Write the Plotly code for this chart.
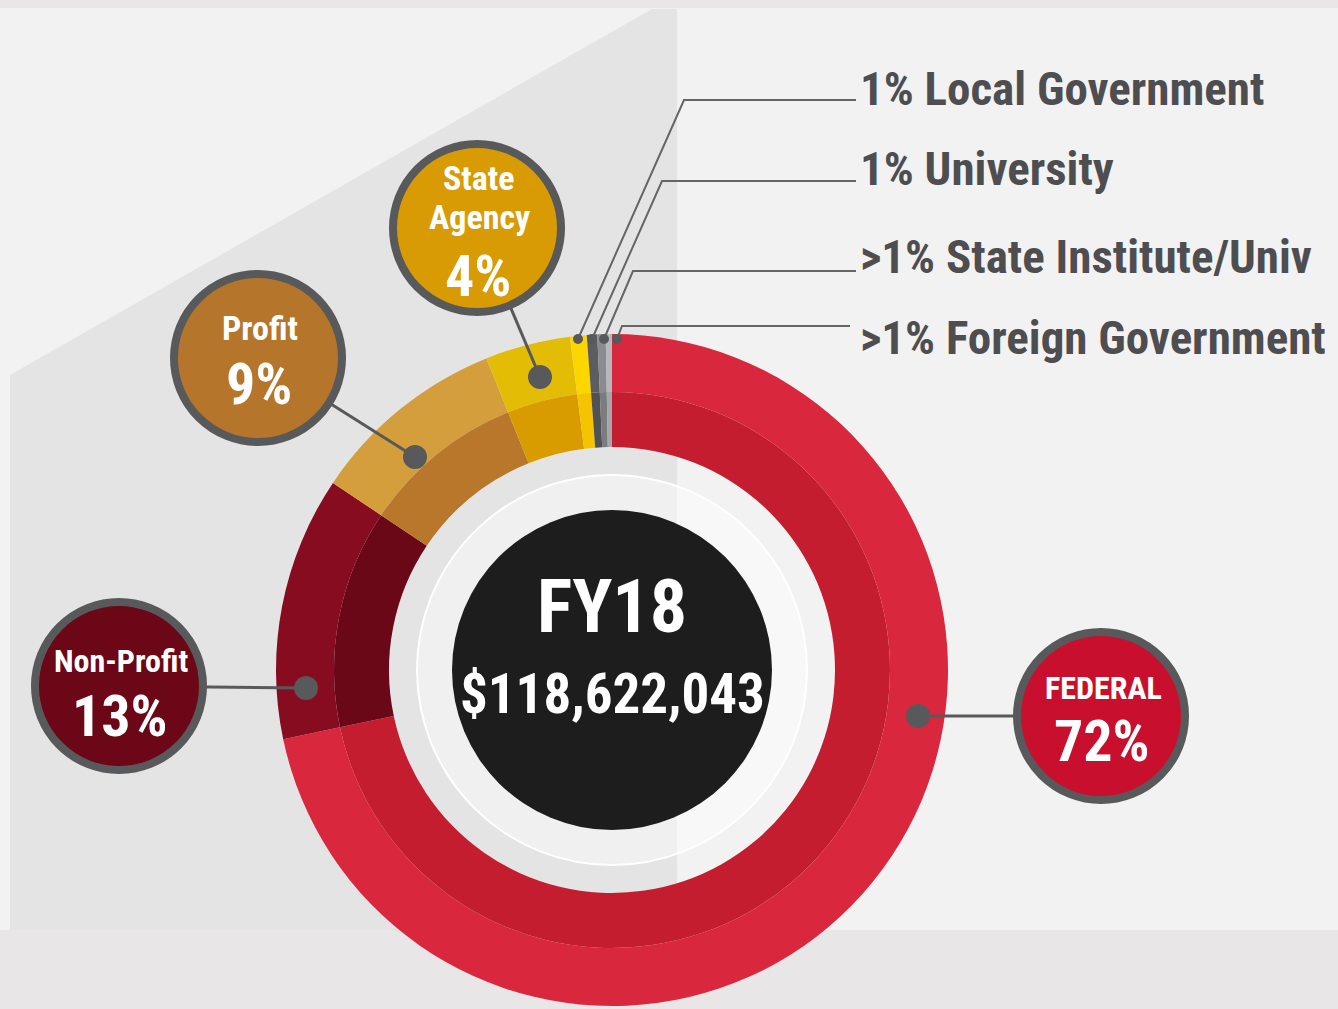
import plotly.graph_objects as go

W, H = 1338, 1009

# ---------------- data ----------------
categories = ["Federal", "Non-Profit", "Profit", "State Agency",
              "Local Government", "University", "State Institute/Univ", "Foreign Government"]
shares = [71.7, 12.7, 9.5, 4.1, 0.8, 0.5, 0.4, 0.3]
pct_labels = ["72%", "13%", "9%", "4%", "1%", "1%", ">1%", ">1%"]
year_label = "FY18"
total_label = "$118,622,043"

# ---------------- styles ----------------
outer_colors = ["#d9283e", "#870c1f", "#d39e3b", "#e3bd05",
                "#fdd600", "#5c5d61", "#8a8c90", "#b7b8bb"]
inner_colors = ["#c41d2f", "#6a0818", "#b8772b", "#d89b00",
                "#f6c300", "#505155", "#7a7c80", "#a6a7aa"]

FONT = ("Roboto Condensed, Open Sans Condensed, Liberation Sans Narrow, "
        "DejaVu Sans Condensed, sans-serif")
GREY = "#58595b"
TEXT_GREY = "#4e4e50"

CX, CY = 612, 670
R_OUT, R_MID, R_IN = 336, 278, 223
R_HALO, R_CORE = 195, 160


def px(x):
    return x / W


def py(y):
    return 1 - y / H


fig = go.Figure()

fig.add_trace(go.Pie(
    values=shares, labels=categories, sort=False, direction="clockwise", rotation=0,
    hole=R_MID / R_OUT,
    domain=dict(x=[px(CX - R_OUT), px(CX + R_OUT)], y=[py(CY + R_OUT), py(CY - R_OUT)]),
    marker=dict(colors=outer_colors, line=dict(width=0)),
    textinfo="none", hoverinfo="label+percent", showlegend=False,
))
fig.add_trace(go.Pie(
    values=shares, labels=categories, sort=False, direction="clockwise", rotation=0,
    hole=R_IN / R_MID,
    domain=dict(x=[px(CX - R_MID), px(CX + R_MID)], y=[py(CY + R_MID), py(CY - R_MID)]),
    marker=dict(colors=inner_colors, line=dict(width=0)),
    textinfo="none", hoverinfo="label+percent", showlegend=False,
))

shapes = []
# background
shapes.append(dict(type="rect", xref="paper", yref="paper", x0=0, x1=1, y0=0, y1=1,
                   fillcolor="#f3f2f2", line=dict(width=0), layer="below"))
shapes.append(dict(type="rect", xref="paper", yref="paper", x0=0, x1=1, y0=py(8), y1=1,
                   fillcolor="#e8e6e6", line=dict(width=0), layer="below"))
poly = (f"M {px(10)},{py(375)} L {px(652)},{py(9)} L {px(677)},{py(9)} "
        f"L {px(677)},{py(930)} L {px(10)},{py(930)} Z")
shapes.append(dict(type="path", xref="paper", yref="paper", path=poly,
                   fillcolor="#e5e4e4", line=dict(width=0), layer="below"))
shapes.append(dict(type="rect", xref="paper", yref="paper", x0=0, x1=1, y0=0, y1=py(930),
                   fillcolor="#e8e6e6", line=dict(width=0), layer="below"))


def circle(cx, cy, r, fill, line_color=None, line_width=0):
    return dict(type="circle", xref="paper", yref="paper",
                x0=px(cx - r), x1=px(cx + r), y0=py(cy + r), y1=py(cy - r),
                fillcolor=fill, line=dict(color=line_color or fill, width=line_width),
                layer="above")


def seg(pts, color=GREY, width=3):
    d = "M " + " L ".join(f"{px(x)},{py(y)}" for x, y in pts)
    return dict(type="path", xref="paper", yref="paper", path=d,
                line=dict(color=color, width=width), layer="above")


# centre
shapes.append(circle(CX, CY, R_HALO, "rgba(255,255,255,0.45)", "#ffffff", 2))
shapes.append(circle(CX, CY, R_CORE, "#1e1d1d"))

# big labels (layout positions)
big = [
    dict(idx=0, c=(1101, 716), dot=(918, 716), fill="#c8102e",
         lines=[("FEDERAL", 688, 32)], pct_y=741),
    dict(idx=1, c=(119, 686), dot=(306, 688), fill="#6b0716",
         lines=[("Non-Profit", 661, 32)], pct_y=716),
    dict(idx=2, c=(258, 358), dot=(415, 457), fill="#b5752a",
         lines=[("Profit", 328, 34)], pct_y=384),
    dict(idx=3, c=(477, 228), dot=(540, 377), fill="#d89b04",
         lines=[("State", 178, 34), ("Agency", 217, 34)], pct_y=276),
]
R_LAB = 84

# small labels (layout positions)
small = [
    dict(idx=4, dot=(578, 339), pts=[(684, 100), (856, 100)], ty=88),
    dict(idx=5, dot=(592, 339), pts=[(662, 181), (856, 181)], ty=169),
    dict(idx=6, dot=(604, 339), pts=[(633, 271), (856, 271)], ty=256),
    dict(idx=7, dot=(617, 339), pts=[(622, 326), (850, 326)], ty=338),
]

for s in small:
    shapes.append(seg([s["dot"]] + s["pts"], color="#646567", width=2))
for s in small:
    shapes.append(circle(s["dot"][0], s["dot"][1], 5, GREY))

for b in big:
    shapes.append(seg([b["dot"], b["c"]], width=3))
for b in big:
    shapes.append(circle(b["dot"][0], b["dot"][1], 12, GREY))
    shapes.append(circle(b["c"][0], b["c"][1], R_LAB, b["fill"], GREY, 8))

annotations = []


def txt(x, y, s, size, color="#ffffff", xanchor="center"):
    annotations.append(dict(x=px(x), y=py(y), xref="paper", yref="paper", text=s,
                            showarrow=False, xanchor=xanchor, yanchor="middle",
                            font=dict(family=FONT, size=size, color=color, weight=700)))


for b in big:
    cx = b["c"][0]
    for t, y, sz in b["lines"]:
        txt(cx + 2, y, t, sz)
    txt(cx + 1, b["pct_y"], pct_labels[b["idx"]], 58)

for s in small:
    i = s["idx"]
    txt(858, s["ty"], f"{pct_labels[i]} {categories[i]}", 47, color=TEXT_GREY, xanchor="left")

txt(CX, 606, year_label, 74)
txt(CX, 694, total_label, 55)

fig.update_layout(
    width=W, height=H, margin=dict(l=0, r=0, t=0, b=0),
    paper_bgcolor="#f3f2f2", plot_bgcolor="#f3f2f2",
    shapes=shapes, annotations=annotations, showlegend=False,
)

fig.write_html("out.html", config={"displayModeBar": False},
               post_script="document.body.style.margin='0';document.body.style.overflow='hidden';")
